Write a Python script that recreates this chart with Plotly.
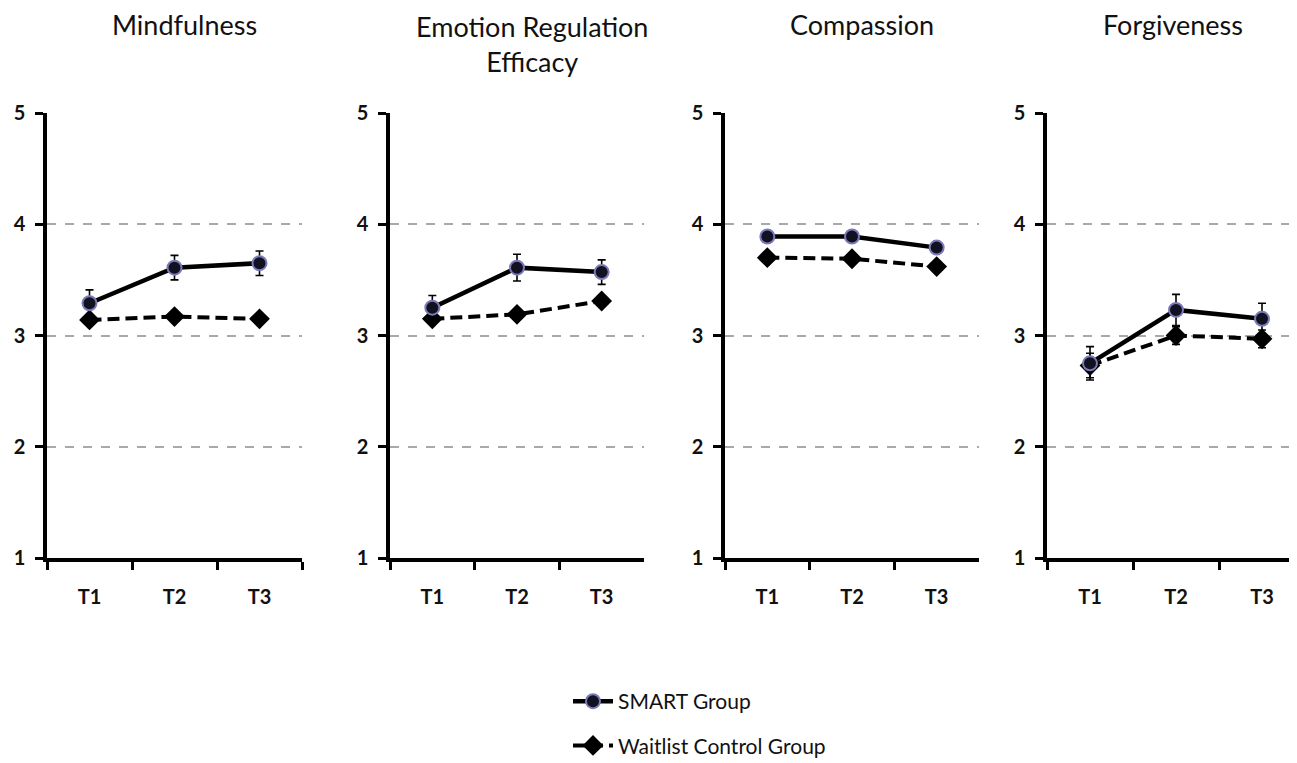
import plotly.graph_objects as go

# ---------------- data ----------------
timepoints = ["T1", "T2", "T3"]
panel_titles = ["Mindfulness", "Emotion Regulation<br>Efficacy", "Compassion", "Forgiveness"]
series_names = ["SMART Group", "Waitlist Control Group"]
y_ticks = [1, 2, 3, 4, 5]

smart_mindfulness = [3.29, 3.61, 3.65]
smart_emotion_reg = [3.25, 3.61, 3.57]
smart_compassion = [3.89, 3.89, 3.79]
smart_forgiveness = [2.75, 3.23, 3.15]

smart_err_mindfulness = [0.12, 0.11, 0.11]
smart_err_emotion_reg = [0.11, 0.12, 0.11]
smart_err_compassion = [0.0, 0.0, 0.0]
smart_err_forgiveness = [0.15, 0.14, 0.14]

control_mindfulness = [3.14, 3.17, 3.15]
control_emotion_reg = [3.15, 3.19, 3.31]
control_compassion = [3.70, 3.69, 3.62]
control_forgiveness = [2.73, 3.00, 2.97]

control_err_mindfulness = [0.0, 0.0, 0.0]
control_err_emotion_reg = [0.0, 0.0, 0.0]
control_err_compassion = [0.0, 0.0, 0.0]
control_err_forgiveness = [0.11, 0.08, 0.08]

smart_all = [smart_mindfulness, smart_emotion_reg, smart_compassion, smart_forgiveness]
smart_err_all = [smart_err_mindfulness, smart_err_emotion_reg, smart_err_compassion, smart_err_forgiveness]
control_all = [control_mindfulness, control_emotion_reg, control_compassion, control_forgiveness]
control_err_all = [control_err_mindfulness, control_err_emotion_reg, control_err_compassion, control_err_forgiveness]

# ---------------- layout geometry ----------------
W, H = 1297, 763
OFF = 8  # page body margin
x_domains_px = [(47, 302), (390, 644), (725, 979), (1047, 1305)]
x_ranges = [[-0.5, 2.5], [-0.5, 2.5], [-0.5, 2.5], [-0.5, 2.5]]
y_dom = [(H - (558 - OFF)) / H, (H - (113 - OFF)) / H]
title_pos = [(184, 25), (532, 44), (862, 25), (1173, 25)]

FONT = "Lato"
fig = go.Figure()

for i in range(4):
    xa = "x" if i == 0 else f"x{i+1}"
    ya = "y" if i == 0 else f"y{i+1}"
    fig.add_trace(go.Scatter(
        x=timepoints, y=control_all[i], xaxis=xa, yaxis=ya,
        mode="lines+markers", name=series_names[1], legendgroup="b",
        legendrank=2, showlegend=(i == 0),
        line=dict(color="black", width=4, dash="12px,6px"),
        marker=dict(symbol="diamond", size=16, color="black"),
        error_y=dict(type="data", array=control_err_all[i], color="black",
                     thickness=1.6, width=4, visible=True),
    ))
    fig.add_trace(go.Scatter(
        x=timepoints, y=smart_all[i], xaxis=xa, yaxis=ya,
        mode="lines+markers", name=series_names[0], legendgroup="a",
        legendrank=1, showlegend=(i == 0),
        line=dict(color="black", width=4.5),
        marker=dict(symbol="circle", size=14, color="#111122",
                    line=dict(color="#7a7ab8", width=2)),
        error_y=dict(type="data", array=smart_err_all[i], color="black",
                     thickness=1.6, width=4, visible=True),
    ))

    xkey = "xaxis" if i == 0 else f"xaxis{i+1}"
    ykey = "yaxis" if i == 0 else f"yaxis{i+1}"
    x0, x1 = x_domains_px[i]
    fig.update_layout(**{
        xkey: dict(
            domain=[(x0 - OFF) / W, min(1.0, (x1 - OFF) / W)], anchor=ya,
            type="category", range=x_ranges[i], tickson="boundaries",
            automargin=False,
            ticks="outside", ticklen=8, tickwidth=3, tickcolor="black",
            showline=True, linecolor="black", linewidth=3.5,
            showgrid=False, zeroline=False,
            tickfont=dict(family=FONT, size=20, color="#111", weight="bold"),
            ticklabelstandoff=18,
            fixedrange=True,
        ),
        ykey: dict(
            domain=y_dom, anchor=xa, range=[1, 5], automargin=False,
            tickvals=y_ticks, ticks="outside", ticklen=8, tickwidth=3,
            tickcolor="black", showline=True, linecolor="black", linewidth=3.5,
            showgrid=True, gridcolor="#a9a9a9", gridwidth=2, griddash="dash",
            zeroline=False,
            tickfont=dict(family=FONT, size=20, color="#111", weight="bold"),
            ticklabelstandoff=6,
            fixedrange=True,
        ),
    })
    tx, ty = title_pos[i]
    fig.add_annotation(
        text=panel_titles[i], xref="paper", yref="paper",
        x=(tx - OFF) / W, y=(H - (ty - OFF)) / H, xanchor="center", yanchor="middle",
        showarrow=False, align="center",
        font=dict(family=FONT, size=27, color="#111"),
    )

fig.update_layout(
    width=W, height=H,
    margin=dict(l=0, r=0, t=0, b=0, autoexpand=False),
    paper_bgcolor="white", plot_bgcolor="white",
    showlegend=True,
    legend=dict(
        x=560 / W, y=(H - 673) / H, xanchor="left", yanchor="top",
        traceorder="grouped", tracegroupgap=14,
        font=dict(family=FONT, size=21, color="#111"),
        bgcolor="rgba(0,0,0,0)", itemwidth=40,
    ),
)

fig.write_html("out.html")
